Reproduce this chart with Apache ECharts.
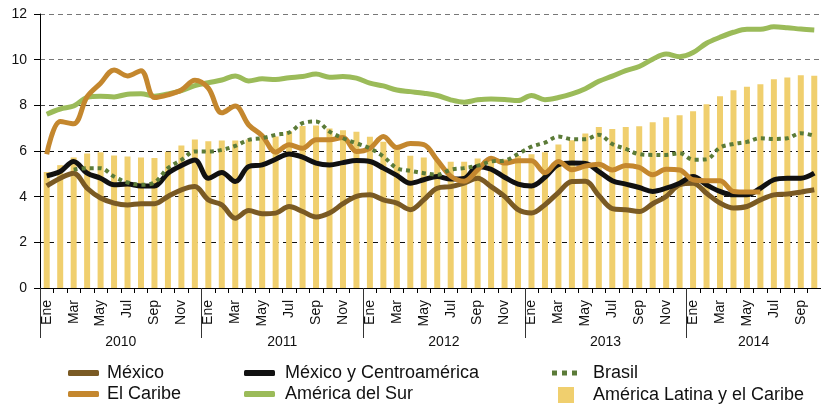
<!DOCTYPE html>
<html lang="es">
<head>
<meta charset="UTF-8">
<title>Tasas de desempleo</title>
<script src="https://cdn.jsdelivr.net/npm/echarts@6/dist/echarts.min.js"></script>
<style>
  html, body { margin: 0; padding: 0; background: #fff; }
  #main { width: 821px; height: 408px; }
</style>
</head>
<body>
<div id="main"></div>
<script>
// meses y años
var years = ['2010', '2011', '2012', '2013', '2014'];
var monthNames = ['Ene', 'Feb', 'Mar', 'Abr', 'May', 'Jun', 'Jul', 'Ago', 'Sep', 'Oct', 'Nov', 'Dic'];
var lastMonthCount = 10; // 2014 hasta octubre

// series
var alc = [5.08, 5.38, 5.72, 5.89, 5.94, 5.80, 5.76, 5.72, 5.69, 5.97, 6.24, 6.50,
           6.43, 6.46, 6.46, 6.50, 6.58, 6.64, 6.86, 7.09, 7.12, 6.99, 6.91, 6.84,
           6.62, 6.40, 6.05, 5.79, 5.72, 5.60, 5.53, 5.53, 5.67, 5.62, 5.64, 5.78,
           5.86, 5.95, 6.28, 6.47, 6.77, 7.05, 6.96, 7.05, 7.08, 7.26, 7.48, 7.57,
           7.74, 8.05, 8.40, 8.66, 8.81, 8.92, 9.14, 9.22, 9.32, 9.30];

var sur = [7.61, 7.84, 7.97, 8.35, 8.40, 8.37, 8.49, 8.51, 8.40, 8.50, 8.64, 8.86,
           8.99, 9.11, 9.29, 9.07, 9.16, 9.13, 9.21, 9.26, 9.37, 9.23, 9.26, 9.19,
           8.97, 8.85, 8.67, 8.60, 8.53, 8.43, 8.24, 8.14, 8.24, 8.28, 8.26, 8.21,
           8.43, 8.25, 8.34, 8.50, 8.73, 9.05, 9.28, 9.52, 9.70, 10.02, 10.25, 10.13,
           10.31, 10.72, 10.98, 11.20, 11.33, 11.33, 11.44, 11.40, 11.34, 11.30];

var mexico = [4.47, 4.81, 5.03, 4.37, 3.94, 3.72, 3.64, 3.69, 3.69, 4.01, 4.30, 4.44,
              3.86, 3.64, 3.06, 3.39, 3.25, 3.28, 3.57, 3.35, 3.11, 3.28, 3.69, 4.01,
              4.08, 3.86, 3.72, 3.43, 3.86, 4.37, 4.44, 4.59, 4.81, 4.44, 4.01, 3.43,
              3.28, 3.65, 4.18, 4.66, 4.67, 4.05, 3.48, 3.43, 3.35, 3.69, 4.01, 4.52,
              4.59, 4.15, 3.72, 3.50, 3.57, 3.86, 4.08, 4.12, 4.20, 4.30];

var mexicoCA = [4.91, 5.10, 5.54, 5.03, 4.81, 4.52, 4.55, 4.47, 4.47, 5.03, 5.36, 5.61,
                4.81, 5.06, 4.66, 5.32, 5.39, 5.64, 5.87, 5.73, 5.47, 5.39, 5.49, 5.58,
                5.54, 5.25, 4.93, 4.59, 4.74, 4.88, 4.77, 4.80, 5.32, 5.20, 4.85, 4.55,
                4.47, 4.85, 5.40, 5.47, 5.45, 5.10, 4.70, 4.55, 4.40, 4.23, 4.37, 4.59,
                4.88, 4.52, 4.23, 4.08, 4.08, 4.37, 4.74, 4.81, 4.81, 5.03];

var caribe = [5.86, 7.29, 7.19, 8.38, 8.97, 9.55, 9.29, 9.52, 8.34, 8.46, 8.67, 9.10,
              8.75, 7.67, 7.97, 7.14, 6.67, 5.95, 6.27, 6.12, 6.49, 6.49, 6.59, 5.98,
              6.12, 6.63, 6.15, 6.33, 6.28, 5.60, 4.90, 4.68, 5.17, 5.68, 5.47, 5.57,
              5.57, 5.05, 5.54, 5.18, 5.34, 5.42, 5.17, 5.37, 5.28, 4.96, 5.20, 5.17,
              4.74, 4.70, 4.70, 4.23, 4.20, 4.20, '-', '-', '-', '-'];

var brasil = ['-', '-', 5.18, 5.25, 5.25, 4.88, 4.62, 4.52, 4.62, 5.25, 5.61, 5.98,
              5.98, 6.05, 6.22, 6.49, 6.56, 6.71, 6.81, 7.22, 7.29, 6.85, 6.56, 6.34,
              6.12, 5.76, 5.25, 5.13, 5.03, 4.96, 5.18, 5.25, 5.36, 5.54, 5.58, 5.87,
              6.19, 6.37, 6.63, 6.52, 6.52, 6.71, 6.31, 6.09, 5.86, 5.83, 5.83, 5.90,
              5.62, 5.64, 6.15, 6.31, 6.40, 6.56, 6.53, 6.56, 6.78, 6.67];

// categorías mensuales
var months = [];
var yearOfMonth = [];
for (var y = 0; y < years.length; y++) {
    var n = (y === years.length - 1) ? lastMonthCount : 12;
    for (var m = 0; m < n; m++) {
        months.push(monthNames[m]);
        yearOfMonth.push(years[y]);
    }
}

// índice del mes en el centro de cada año (para la etiqueta)
var yearLabelIdx = [];
var start = 0;
for (var y = 0; y < years.length; y++) {
    var n = (y === years.length - 1) ? lastMonthCount : 12;
    yearLabelIdx.push(start + n / 2);
    start += n;
}

var FONT = 'Liberation Sans, Arial, sans-serif';
var colors = {
    mexico: '#7A5A24',
    caribe: '#C4872E',
    mexicoCA: '#111111',
    sur: '#9BBB59',
    brasil: '#5B7B38',
    alc: '#F0CF6E'
};

function legendAt(name, left, top, icon, w, h, padLeft) {
    return {
        data: [{ name: name, icon: icon }],
        left: left,
        top: top,
        padding: 0,
        itemWidth: w,
        itemHeight: h,
        itemGap: 0,
        selectedMode: false,
        textStyle: { fontFamily: FONT, fontSize: 18, color: '#111', padding: [0, 0, 0, padLeft] }
    };
}

var chart = echarts.init(document.getElementById('main'), null, { renderer: 'canvas' });

var option = {
    animation: false,
    backgroundColor: '#fff',
    grid: { left: 40, right: -8, top: 14, bottom: 120, containLabel: false },
    legend: [
        legendAt('México', 68, 364, 'roundRect', 31, 6, 3),
        legendAt('El Caribe', 68, 385, 'roundRect', 31, 6, 3),
        legendAt('México y Centroamérica', 244, 364, 'roundRect', 31, 6, 5),
        legendAt('América del Sur', 244, 385, 'roundRect', 31, 6, 5),
        legendAt('Brasil', 552, 364, 'path://M0,0h5v5h-5zM10,0h5v5h-5zM20,0h5v5h-5z', 25, 5, 11),
        legendAt('América Latina y el Caribe', 558, 386, 'rect', 16, 16, 14)
    ],
    xAxis: [{
        type: 'category',
        data: months,
        boundaryGap: true,
        axisLine: { show: true, lineStyle: { color: '#000', width: 1 } },
        axisTick: { show: true, interval: 0, length: 5, lineStyle: { color: '#000' } },
        axisLabel: {
            interval: function (idx) { return idx % 2 === 0; },
            rotate: 90,
            margin: 12,
            fontFamily: FONT,
            fontSize: 14,
            color: '#111'
        },
        splitLine: { show: false }
    }, {
        type: 'category',
        data: yearOfMonth,
        position: 'bottom',
        boundaryGap: true,
        axisLine: { show: false },
        axisTick: {
            show: true,
            interval: function (idx) { return idx % 12 === 0; },
            length: 50,
            lineStyle: { color: '#333', width: 1 }
        },
        axisLabel: {
            interval: function (idx) { return yearLabelIdx.indexOf(idx) >= 0; },
            margin: 47,
            padding: [0, 13.6, 0, 0],
            fontFamily: FONT,
            fontSize: 14,
            color: '#111'
        },
        splitLine: { show: false }
    }],
    yAxis: {
        type: 'value',
        min: 0,
        max: 12,
        interval: 2,
        axisLine: { show: true, lineStyle: { color: '#000', width: 1 } },
        axisTick: { show: true, length: 6, lineStyle: { color: '#000' } },
        axisLabel: { margin: 13, fontFamily: FONT, fontSize: 14, color: '#111' },
        splitLine: {
            show: true,
            lineStyle: {
                color: ['#000', '#111', '#111', '#111', '#444', '#777', '#777'],
                type: [5, 4],
                width: 1
            }
        }
    },
    series: [{
        name: 'América Latina y el Caribe',
        type: 'bar',
        data: alc,
        barWidth: 6,
        itemStyle: { color: colors.alc },
        z: 1
    }, {
        name: 'América del Sur',
        type: 'line',
        data: sur,
        smooth: 0.35,
        symbol: 'none',
        lineStyle: { color: colors.sur, width: 5 },
        itemStyle: { color: colors.sur },
        z: 3
    }, {
        name: 'México',
        type: 'line',
        data: mexico,
        smooth: 0.35,
        symbol: 'none',
        lineStyle: { color: colors.mexico, width: 5 },
        itemStyle: { color: colors.mexico },
        z: 3
    }, {
        name: 'México y Centroamérica',
        type: 'line',
        data: mexicoCA,
        smooth: 0.35,
        symbol: 'none',
        lineStyle: { color: colors.mexicoCA, width: 5 },
        itemStyle: { color: colors.mexicoCA },
        z: 3
    }, {
        name: 'El Caribe',
        type: 'line',
        data: caribe,
        smooth: 0.35,
        symbol: 'none',
        lineStyle: { color: colors.caribe, width: 5 },
        itemStyle: { color: colors.caribe },
        z: 3
    }, {
        name: 'Brasil',
        type: 'line',
        data: brasil,
        smooth: 0.35,
        symbol: 'none',
        lineStyle: { color: colors.brasil, width: 4, type: [4, 4] },
        itemStyle: { color: colors.brasil },
        z: 4
    }]
};

chart.setOption(option);
</script>
</body>
</html>
